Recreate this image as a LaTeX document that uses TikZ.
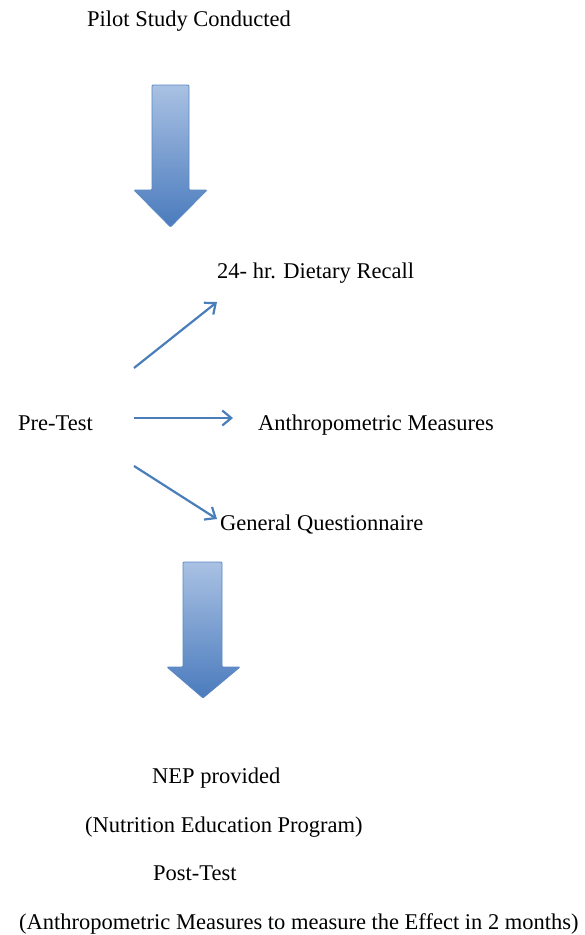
\documentclass[tikz,border=0pt]{standalone}
\usepackage{fontspec}
\setmainfont{Liberation Serif}
\usetikzlibrary{arrows.meta}
\definecolor{arrowblue}{HTML}{4A7EBB}
\definecolor{lightblue}{HTML}{A9C1E3}
\definecolor{darkblue}{HTML}{4A7BBD}
\definecolor{edgeblue}{HTML}{5B88C2}
\tikzset{
  lbl/.style={anchor=base west, inner sep=0pt, font=\fontsize{22.5}{25}\selectfont, text=black},
  thin/.style={draw=arrowblue, line width=2.2pt, -{Straight Barb[length=9pt,width=15pt,line width=2.2pt]}},
  big/.style={top color=lightblue, bottom color=darkblue, draw=edgeblue, line width=0.8pt, rounded corners=1pt}
}
\begin{document}
\begin{tikzpicture}[x=1pt,y=-1pt]
\useasboundingbox (0,0) rectangle (585,935);
\node[lbl] (pilot) at (87,26) {Pilot Study Conducted};
% big arrow 1
\draw[big] (152,85) -- (189,85) -- (189,190) -- (207,190) -- (170.5,227) -- (134,190) -- (152,190) -- cycle;
\node[lbl] (recall) at (217,278) {24- hr. Dietary Recall};
\node[lbl] (pre) at (18,430) {Pre-Test};
\node[lbl] (anthro) at (258,430) {Anthropometric Measures};
\node[lbl] (gen) at (220,530) {General Questionnaire};
\coordinate (s1) at (134,368);
\coordinate (e1) at (217,302);
\coordinate (s2) at (134,418);
\coordinate (e2) at (233,418);
\coordinate (s3) at (134,466);
\coordinate (e3) at (217,519);
\draw[thin] (s1) -- (e1);
\draw[thin] (s2) -- (e2);
\draw[thin] (s3) -- (e3);
% big arrow 2
\draw[big] (183,562) -- (222,562) -- (222,667) -- (240,667) -- (203,698) -- (167,667) -- (183,667) -- cycle;
\node[lbl] (nep) at (152,783) {NEP provided};
\node[lbl] (nut) at (85,832) {(Nutrition Education Program)};
\node[lbl] (post) at (153,880) {Post-Test};
\node[lbl] (eff) at (19,929) {(Anthropometric Measures to measure the Effect in 2 months)};
\end{tikzpicture}
\end{document}
